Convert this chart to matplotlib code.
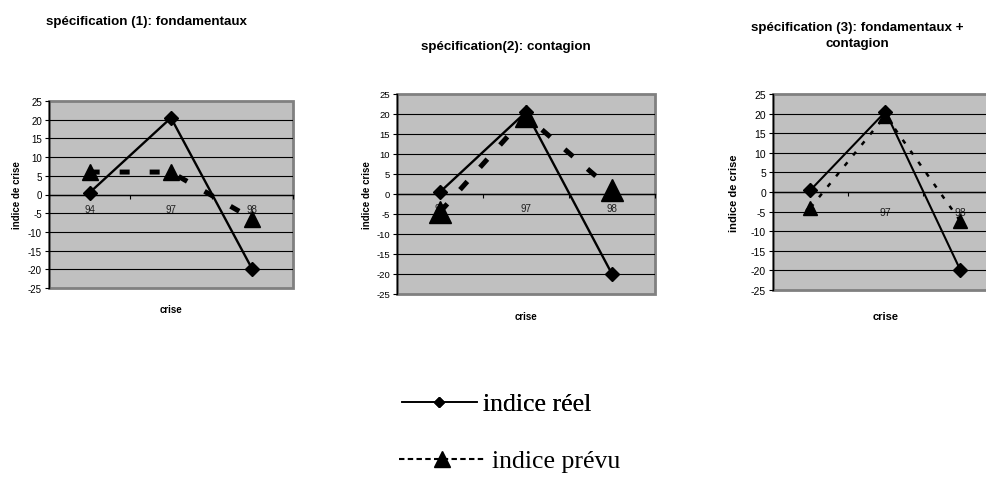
import matplotlib
matplotlib.use("Agg")
import matplotlib.pyplot as plt
from matplotlib.lines import Line2D
import numpy as np

plt.rcParams['font.family'] = ['Liberation Sans', 'DejaVu Sans']

# ---- data ----
crises = ['94', '97', '98']
indice_reel = [0.5, 20.5, -20]
prevu_spec1 = [6, 6, -6.5]
prevu_spec2 = [-4.5, 19.5, 1]
prevu_spec3 = [-4, 19.5, -7.5]
y_ticks = [-25, -20, -15, -10, -5, 0, 5, 10, 15, 20, 25]
titles = ["spécification (1): fondamentaux",
          "spécification(2): contagion",
          "spécification (3): fondamentaux +\ncontagion"]
ylabel = "indice de crise"
xlabel = "crise"
legend_labels = ["indice réel", "indice prévu"]

W, H = 987, 481
fig = plt.figure(figsize=(W / 100, H / 100), dpi=100)

def fx(px):
    return px / W

def fy(py):
    return 1 - py / H

# panel geometry in pixels: left, top, right, bottom
panels = [
    dict(box=(49, 102, 293, 289), prevu=prevu_spec1, tick_fs=7, lab_fs=7, xt_fs=7,
         xpad=7, ylab_x=-0.110, xlab_y=-0.086, d_ms=7.6, t_ms=11, lw_r=1.7, lw_p=3.6,
         dash=(2, 4), title_xy=(146, 22), title_fs=9.6),
    dict(box=(397, 95, 655, 295), prevu=prevu_spec2, tick_fs=6.8, lab_fs=7, xt_fs=7,
         xpad=6.5, ylab_x=-0.097, xlab_y=-0.083, d_ms=7.6, t_ms=16.5, lw_r=1.7, lw_p=3.6,
         dash=(2.2, 3.8), title_xy=(506, 47), title_fs=9.6),
    dict(box=(773, 95, 998, 291), prevu=prevu_spec3, tick_fs=7.5, lab_fs=8, xt_fs=7.5,
         xpad=11, ylab_x=-0.151, xlab_y=-0.105, d_ms=7.6, t_ms=10.5, lw_r=1.5, lw_p=1.8,
         dash=(1.8, 3.6), title_xy=(857, 36), title_fs=9.6),
]

x = np.arange(len(crises))
for i, p in enumerate(panels):
    l, t, r, b = p['box']
    ax = fig.add_axes([fx(l), fy(b), (r - l) / W, (b - t) / H])
    ax.set_facecolor('#C0C0C0')
    ax.patch.set_edgecolor('#808080')
    ax.patch.set_linewidth(2)

    ax.plot(x, indice_reel, color='black', lw=p['lw_r'], marker='D',
            ms=p['d_ms'], mfc='black', mec='black', zorder=3)
    ln, = ax.plot(x, p['prevu'], color='black', lw=p['lw_p'], marker='^',
                  ms=p['t_ms'], mfc='black', mec='black', zorder=4,
                  solid_capstyle='butt', dash_capstyle='butt')
    ln.set_dashes(p['dash'])

    ax.set_xlim(-0.5, 2.5)
    ax.set_ylim(-25, 25)
    ax.set_yticks(y_ticks)
    ax.set_yticklabels([str(v) for v in y_ticks])
    ax.set_xticks(x)
    ax.set_xticklabels(crises)
    ax.set_xticks([-0.5, 0.5, 1.5, 2.5], minor=True)

    ax.yaxis.grid(True, color='black', lw=0.8)
    gl = ax.get_ygridlines()
    gl[0].set_visible(False)
    gl[-1].set_visible(False)
    ax.set_axisbelow(True)

    for s in ('top', 'right'):
        ax.spines[s].set_visible(False)
    ax.spines['left'].set_color('black')
    ax.spines['left'].set_linewidth(1)
    ax.spines['bottom'].set_position(('data', 0))
    ax.spines['bottom'].set_color('black')
    ax.spines['bottom'].set_linewidth(1)

    ax.tick_params(axis='y', direction='out', length=3, width=0.8,
                   labelsize=p['tick_fs'], pad=2, colors='black')
    ax.tick_params(axis='x', which='major', length=0, labelsize=p['xt_fs'],
                   pad=p['xpad'], labelcolor='#202020')
    ax.tick_params(axis='x', which='minor', direction='out', length=3, width=0.8)

    ax.set_ylabel(ylabel, fontsize=p['lab_fs'], fontweight='bold')
    ax.yaxis.set_label_coords(p['ylab_x'], 0.5)
    ax.set_xlabel(xlabel, fontsize=p['lab_fs'], fontweight='bold')
    ax.xaxis.set_label_coords(0.5, p['xlab_y'])

    tx, ty = p['title_xy']
    fig.text(fx(tx), fy(ty), titles[i], ha='center', va='center',
             fontsize=p['title_fs'], fontweight='bold', linespacing=1.45)

# ---- legend (two lines of text-like legend) ----
h1 = Line2D([], [], color='black', lw=1.2, marker='D', ms=5.2,
            mfc='black', mec='black')
h2 = Line2D([], [], color='black', lw=1.5, marker='^', ms=11,
            mfc='black', mec='black', dashes=(2.6, 1.6))
prop = {'family': ['Liberation Serif', 'DejaVu Serif'], 'size': 18.5}
leg1 = fig.legend(handles=[h1], labels=[legend_labels[0]], loc='center left',
                  bbox_to_anchor=(fx(402), fy(405)), frameon=False, prop=prop,
                  handlelength=2.9, handletextpad=0.27, borderpad=0,
                  borderaxespad=0, numpoints=1)
leg2 = fig.legend(handles=[h2], labels=[legend_labels[1]], loc='center left',
                  bbox_to_anchor=(fx(399), fy(462)), frameon=False, prop=prop,
                  handlelength=3.35, handletextpad=0.27, borderpad=0,
                  borderaxespad=0, numpoints=1)
fig.add_artist(leg1)

fig.savefig('out.png', dpi=100)
